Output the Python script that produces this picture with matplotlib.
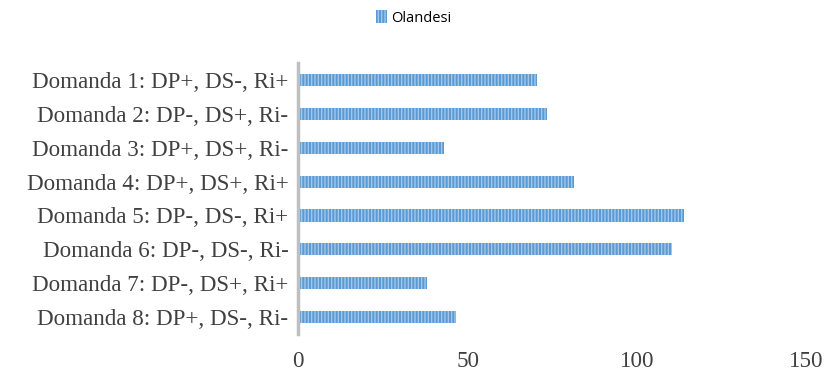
import matplotlib.pyplot as plt
from matplotlib.patches import Patch

categories = ["Domanda 1: DP+, DS-, Ri+",
              "Domanda 2: DP-, DS+, Ri-",
              "Domanda 3: DP+, DS+, Ri-",
              "Domanda 4: DP+, DS+, Ri+",
              "Domanda 5: DP-, DS-, Ri+",
              "Domanda 6: DP-, DS-, Ri-",
              "Domanda 7: DP-, DS+, Ri+",
              "Domanda 8: DP+, DS-, Ri-"]
olandesi = [70.5, 73.5, 43, 81.5, 114, 110.5, 38, 46.5]
xticks = [0, 50, 100, 150]

plt.rcParams['hatch.linewidth'] = 0.9

fig = plt.figure(figsize=(8.31, 3.76), dpi=100)
ax = fig.add_axes([0.359, 0.112, 0.611, 0.72])

ypos = list(range(len(categories)))
ax.barh(ypos, olandesi, height=0.36, color='#5b9bd5', edgecolor='#a9cbeb',
        linewidth=0, hatch='|||||')

ax.set_ylim(len(categories) - 0.5, -0.5)
ax.set_xlim(0, 150)
ax.set_yticks(ypos)
ax.set_yticklabels(categories, fontfamily='Liberation Serif', fontsize=16.6, color='#404040')
ax.set_xticks(xticks)
ax.set_xticklabels([str(t) for t in xticks], fontfamily='Liberation Serif', fontsize=16.6, color='#404040')
ax.tick_params(length=0, pad=7)
ax.tick_params(axis='x', pad=12)

for s in ['top', 'right', 'bottom']:
    ax.spines[s].set_visible(False)
ax.spines['left'].set_color('#bfbfbf')
ax.spines['left'].set_linewidth(2.5)

handle = Patch(facecolor='#5b9bd5', edgecolor='#a9cbeb', linewidth=0, hatch='|||||')
fig.legend([handle], ['Olandesi'], loc='center', bbox_to_anchor=(0.498, 0.952),
           frameon=False, prop={'family': 'Open Sans', 'size': 10.5},
           handlelength=0.75, handleheight=1.0, handletextpad=0.3)

fig.savefig('out.png', dpi=100)
